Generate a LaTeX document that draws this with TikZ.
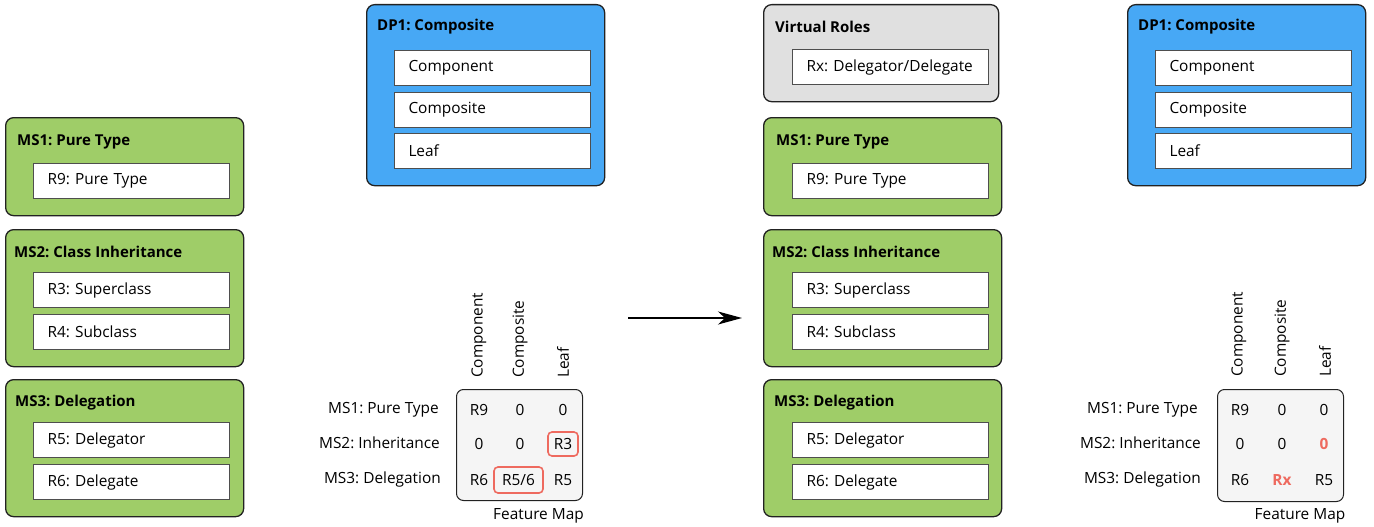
\documentclass[tikz,border=0pt]{standalone}
\usepackage{fontspec}
\setmainfont{Open Sans}
\usetikzlibrary{arrows.meta}
\definecolor{msgreen}{HTML}{9FCD68}
\definecolor{dpblue}{HTML}{47A8F5}
\definecolor{vrgray}{HTML}{E0E0E0}
\definecolor{hlred}{HTML}{EE6A5F}
\definecolor{mapfill}{HTML}{F5F5F5}
\definecolor{edge}{HTML}{222222}
\tikzset{
  x=1pt, y=-1pt,
  every node/.style={font=\fontsize{15.4}{17}\selectfont\frenchspacing, text=black},
  outer/.style={draw=edge, line width=1.3pt, rounded corners=8pt, anchor=north west, inner sep=0pt},
  msbox/.style={outer, fill=msgreen, minimum width=238pt},
  dpbox/.style={outer, fill=dpblue, minimum width=238pt, minimum height=181pt},
  vrbox/.style={outer, fill=vrgray, minimum width=235pt, minimum height=97pt},
  title/.style={anchor=west, inner sep=0pt, font=\fontsize{15}{17}\selectfont\frenchspacing\bfseries},
  inbox/.style={draw=edge!80, line width=1pt, fill=white, anchor=north west, minimum height=35pt,
    text width=168pt, inner xsep=14pt, inner ysep=0pt, align=left},
  mapbox/.style={draw=edge, line width=1pt, rounded corners=7pt, fill=mapfill, anchor=north west, inner sep=0pt},
  cell/.style={inner sep=0pt},
  hl/.style={draw=hlred, line width=1.6pt, rounded corners=4pt, inner sep=0pt},
  redtxt/.style={inner sep=0pt, text=hlred, font=\fontsize{15.4}{17}\selectfont\bfseries},
  colhead/.style={rotate=90, anchor=west, inner sep=0pt},
  rowhead/.style={anchor=east, inner sep=0pt},
}
\begin{document}
\begin{tikzpicture}
\useasboundingbox (0,0) rectangle (1374,527);
% ---------- left column ----------
\node[msbox, minimum height=98pt] (lms1) at (5,117) {};
\node[title] (lms1t) at (17,142) {MS1: Pure Type};
\node[inbox] (lr9) at (33,163) {R9: Pure Type};
\node[msbox, minimum height=137pt] (lms2) at (5,229) {};
\node[title] (lms2t) at (14,252) {MS2: Class Inheritance};
\node[inbox] (lr3) at (33,272) {R3: Superclass};
\node[inbox] (lr4) at (33,314) {R4: Subclass};
\node[msbox, minimum height=137pt] (lms3) at (5,379) {};
\node[title] (lms3t) at (15,403) {MS3: Delegation};
\node[inbox] (lr5) at (33,422) {R5: Delegator};
\node[inbox] (lr6) at (33,464) {R6: Delegate};
% ---------- DP1 left ----------
\node[dpbox] (ldp) at (366,4) {};
\node[title] (ldpt) at (377,27) {DP1: Composite};
\node[inbox] (lcomp) at (394,50) {Component};
\node[inbox] (lcomps) at (394,92) {Composite};
\node[inbox] (lleaf) at (394,133) {Leaf};
% ---------- feature map left ----------
\node[mapbox, minimum width=126pt, minimum height=111pt] (lmap) at (456,389) {};
\node[colhead] (lch1) at (479,378) {Component};
\node[colhead] (lch2) at (520,378) {Composite};
\node[colhead] (lch3) at (563,378) {Leaf};
\node[rowhead] (lrh1) at (439,410) {MS1: Pure Type};
\node[rowhead] (lrh2) at (440,443) {MS2: Inheritance};
\node[rowhead] (lrh3) at (441,479) {MS3: Delegation};
\node[cell] (lm11) at (479,410) {R9};
\node[cell] (lm12) at (520,410) {0};
\node[cell] (lm13) at (563,410) {0};
\node[cell] (lm21) at (479,444) {0};
\node[cell] (lm22) at (520,444) {0};
\node[hl, minimum width=30pt, minimum height=24pt] (lm23) at (563,444) {R3};
\node[cell] (lm31) at (479,480) {R6};
\node[hl, minimum width=49pt, minimum height=26pt] (lm32) at (518.5,480) {R5/6};
\node[cell] (lm33) at (563,480) {R5};
\node[inner sep=0pt] (lfm) at (538.5,516) {Feature Map};
% ---------- arrow ----------
\coordinate (arrs) at (628,318);
\coordinate (arre) at (742,318);
\draw[line width=1.3pt, -{Stealth[length=24pt, width=13pt, inset=7pt]}] (arrs) -- (arre);
% ---------- right column ----------
\node[vrbox] (vr) at (763,4) {};
\node[title] (vrt) at (775,27) {Virtual Roles};
\node[inbox] (rx) at (792,49) {Rx: Delegator/Delegate};
\node[msbox, minimum height=98pt] (rms1) at (763,117) {};
\node[title] (rms1t) at (776,142) {MS1: Pure Type};
\node[inbox] (rr9) at (792,163) {R9: Pure Type};
\node[msbox, minimum height=137pt] (rms2) at (763,229) {};
\node[title] (rms2t) at (772,252) {MS2: Class Inheritance};
\node[inbox] (rr3) at (792,272) {R3: Superclass};
\node[inbox] (rr4) at (792,314) {R4: Subclass};
\node[msbox, minimum height=137pt] (rms3) at (763,379) {};
\node[title] (rms3t) at (774,403) {MS3: Delegation};
\node[inbox] (rr5) at (792,422) {R5: Delegator};
\node[inbox] (rr6) at (792,464) {R6: Delegate};
% ---------- DP1 right ----------
\node[dpbox] (rdp) at (1127,4) {};
\node[title] (rdpt) at (1138,27) {DP1: Composite};
\node[inbox] (rcomp) at (1155,50) {Component};
\node[inbox] (rcomps) at (1155,92) {Composite};
\node[inbox] (rleaf) at (1155,133) {Leaf};
% ---------- feature map right ----------
\node[mapbox, minimum width=126pt, minimum height=112pt] (rmap) at (1217,389) {};
\node[colhead] (rch1) at (1239,377) {Component};
\node[colhead] (rch2) at (1282,377) {Composite};
\node[colhead] (rch3) at (1325,377) {Leaf};
\node[rowhead] (rrh1) at (1198,410) {MS1: Pure Type};
\node[rowhead] (rrh2) at (1201,443) {MS2: Inheritance};
\node[rowhead] (rrh3) at (1201,479) {MS3: Delegation};
\node[cell] (rm11) at (1240,410) {R9};
\node[cell] (rm12) at (1282,410) {0};
\node[cell] (rm13) at (1324,410) {0};
\node[cell] (rm21) at (1240,444) {0};
\node[cell] (rm22) at (1282,444) {0};
\node[redtxt] (rm23) at (1324,444) {0};
\node[cell] (rm31) at (1240,480) {R6};
\node[redtxt] (rm32) at (1282,480) {Rx};
\node[cell] (rm33) at (1324,480) {R5};
\node[inner sep=0pt] (rfm) at (1300,516) {Feature Map};
\end{tikzpicture}
\end{document}
